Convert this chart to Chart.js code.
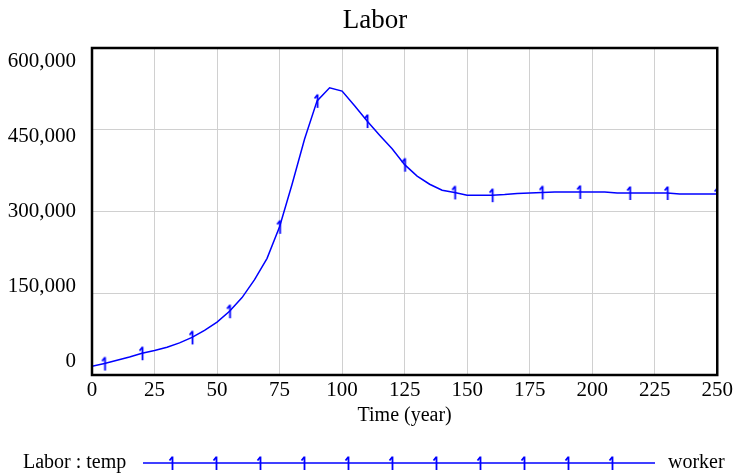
<!DOCTYPE html>
<html>
<head>
<meta charset="utf-8">
<title>Labor</title>
<script src="https://cdn.jsdelivr.net/npm/chart.js@4/dist/chart.umd.min.js"></script>
<style>
  html, body { margin: 0; padding: 0; background: #fff; }
  #wrap { position: relative; width: 736px; height: 476px; }
</style>
</head>
<body>
<div id="wrap"><canvas id="laborChart"></canvas></div>
<script>
// Labor : temp (worker), read every 5 years
const years = [0, 5, 10, 15, 20, 25, 30, 35, 40, 45, 50, 55, 60, 65, 70, 75, 80, 85, 90, 95,
    100, 105, 110, 115, 120, 125, 130, 135, 140, 145, 150, 155, 160, 165, 170, 175, 180, 185, 190, 195,
    200, 205, 210, 215, 220, 225, 230, 235, 240, 245, 250];
const labor = [16000, 21000, 27000, 33000, 40000, 45000, 51000, 59000, 69000, 82000,
    97000, 117000, 142000, 175000, 214000, 272000, 350000, 433000, 503000, 527000,
    521000, 494000, 466000, 440000, 415000, 386000, 365000, 350000, 339000, 335000,
    330000, 330000, 330000, 331000, 333000, 334000, 335000, 336000, 336000, 336000,
    336000, 336000, 334000, 334000, 334000, 334000, 334000, 332000, 332000, 332000, 332000];
// years where the "1" marker sits on the line
const markerYears = [5, 20, 40, 55, 75, 90, 110, 125, 145, 160, 180, 195, 215, 230, 250];
const yTicks = [0, 150000, 300000, 450000, 600000];
const xTicks = [0, 25, 50, 75, 100, 125, 150, 175, 200, 225, 250];

const FONT = "'Liberation Serif', 'Times New Roman', serif";
const BLUE = '#0000ff';

// "1" glyph used as the point marker (tall stroke with a small flag, like Vensim)
function makeMarker() {
    const c = document.createElement('canvas');
    c.width = 10;
    c.height = 16;
    const ctx = c.getContext('2d');
    ctx.strokeStyle = BLUE;
    ctx.lineWidth = 1.8;
    ctx.beginPath();
    ctx.moveTo(5.5, 1.5);
    ctx.lineTo(5.5, 15);
    ctx.moveTo(5.5, 1.8);
    ctx.lineTo(2.5, 5.5);
    ctx.stroke();
    return c;
}
const marker = makeMarker();

const lineData = years.map((y, i) => ({ x: y, y: labor[i] }));
const markerData = markerYears.map(y => ({ x: y, y: labor[years.indexOf(y)] }));

// title, box, y labels, x title and legend
const decorations = {
    id: 'decorations',
    afterDraw(chart) {
        const ctx = chart.ctx;
        const area = chart.chartArea;
        const yScale = chart.scales.y;
        ctx.save();
        ctx.fillStyle = '#000';
        ctx.font = '27px ' + FONT;
        ctx.textAlign = 'center';
        ctx.textBaseline = 'middle';
        ctx.fillText('Labor', 375, 21);

        ctx.font = '20px ' + FONT;
        ctx.fillText('Time (year)', (area.left + area.right) / 2, 416);

        // y labels (Vensim spaces them a little tighter than the grid)
        ctx.font = '21px ' + FONT;
        const mid = (area.top + area.bottom) / 2;
        ctx.textAlign = 'right';
        yTicks.forEach(v => {
            const gy = yScale.getPixelForValue(v);
            ctx.fillText(v.toLocaleString('en-US'), area.left - 16, mid + (gy - mid) * 0.915);
        });

        // plot box
        ctx.strokeStyle = '#000';
        ctx.lineWidth = 2.5;
        ctx.strokeRect(area.left, area.top, area.right - area.left, area.bottom - area.top);

        // legend
        const ly = 463;
        ctx.font = '20px ' + FONT;
        ctx.textAlign = 'left';
        ctx.fillText('Labor : temp', 23, ly);
        ctx.fillText('worker', 668, ly);
        ctx.strokeStyle = BLUE;
        ctx.lineWidth = 1.5;
        ctx.beginPath();
        ctx.moveTo(143, ly);
        ctx.lineTo(655, ly);
        ctx.stroke();
        for (let i = 0; i < 11; i++) {
            ctx.drawImage(marker, 172 + 44 * i - 5, ly - 8);
        }
        ctx.restore();
    }
};

new Chart(document.getElementById('laborChart'), {
    type: 'line',
    data: {
        datasets: [{
            label: 'Labor : temp',
            data: lineData,
            borderColor: BLUE,
            borderWidth: 1.5,
            pointRadius: 0,
            tension: 0,
            fill: false
        }, {
            label: 'markers',
            data: markerData,
            showLine: false,
            pointStyle: marker,
            pointRadius: 6,
            borderColor: BLUE,
            backgroundColor: BLUE
        }]
    },
    options: {
        responsive: true,
        maintainAspectRatio: false,
        animation: false,
        layout: {
            padding: { left: 92, right: 17, top: 48, bottom: 0 }
        },
        plugins: {
            legend: { display: false },
            title: { display: false },
            tooltip: { enabled: false }
        },
        scales: {
            x: {
                type: 'linear',
                min: 0,
                max: 250,
                afterBuildTicks: function(scale) {
                    scale.ticks = xTicks.map(v => ({ value: v }));
                },
                afterFit: function(scale) {
                    scale.height = 101;
                },
                grid: { color: '#d0d0d0', lineWidth: 1, drawTicks: false },
                border: { display: false },
                ticks: {
                    color: '#000',
                    padding: 3,
                    maxRotation: 0,
                    font: { family: FONT, size: 21 }
                }
            },
            y: {
                type: 'linear',
                min: 0,
                max: 600000,
                afterBuildTicks: function(scale) {
                    scale.ticks = yTicks.map(v => ({ value: v }));
                },
                afterFit: function(scale) {
                    scale.width = 0;
                },
                grid: { color: '#d0d0d0', lineWidth: 1, drawTicks: false },
                border: { display: false },
                ticks: { display: false }
            }
        }
    },
    plugins: [decorations]
});
</script>
</body>
</html>
